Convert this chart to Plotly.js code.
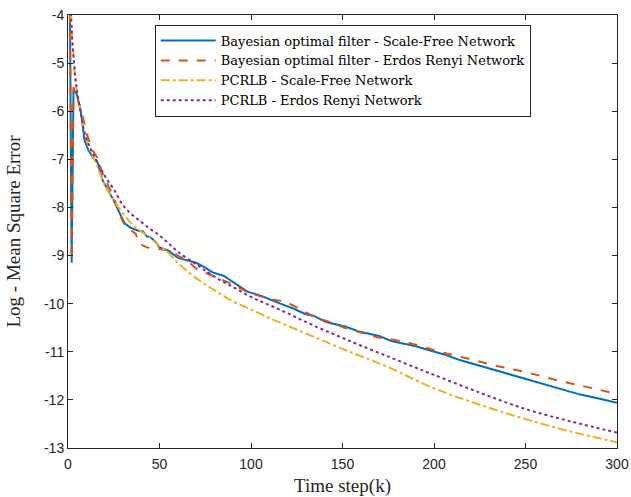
<!DOCTYPE html>
<html>
<head>
<meta charset="utf-8">
<script src="https://cdn.plot.ly/plotly-3.0.1.min.js"></script>
<style>html,body{margin:0;padding:0;background:#fff;}#chart{width:631px;height:497px;}</style>
</head>
<body>
<div id="chart"></div>
<script>
// Series names
const seriesNames = [
  'Bayesian optimal filter - Scale-Free Network',
  'Bayesian optimal filter - Erdos Renyi Network',
  'PCRLB - Scale-Free Network',
  'PCRLB - Erdos Renyi Network'
];

// Bayesian optimal filter - Scale-Free Network
const bofSfK = [1,2,3,4,5,6,7,8,9,11,14,16,19,22,25,28,31,34,38,41,43,45,48,50,55,60,65,70,75,79,85,90,98,105,110,116,123,130,134,141,152,159,170,177,189,196,205,214,225,240,250,260,270,280,290,300];
const bofSfV = [-3.6,-9.15,-5.56,-5.6,-5.67,-5.85,-6.0,-6.3,-6.6,-6.8,-6.98,-7.05,-7.44,-7.65,-7.85,-8.1,-8.33,-8.42,-8.48,-8.5,-8.6,-8.62,-8.72,-8.83,-8.9,-9.05,-9.1,-9.15,-9.25,-9.35,-9.42,-9.55,-9.75,-9.83,-9.9,-10.0,-10.1,-10.22,-10.25,-10.38,-10.48,-10.58,-10.67,-10.78,-10.875,-10.95,-11.05,-11.17,-11.29,-11.46,-11.57,-11.68,-11.79,-11.89,-11.97,-12.06];

// Bayesian optimal filter - Erdos Renyi Network
const bofErK = [1,2,3,4,5,6,7,8,10,12,14,16,19,22,24,26,28,30,32,35,37,39,43,47,52,56,60,65,70,79,90,98,105,110,119,126,135,142,151,160,169,178,187,194,203,214,225,235,250,260,270,280,290,300];
const bofErV = [-3.6,-9.1,-5.5,-5.6,-5.7,-5.85,-5.95,-6.1,-6.45,-6.67,-6.85,-6.96,-7.3,-7.55,-7.7,-7.9,-8.1,-8.3,-8.4,-8.5,-8.55,-8.75,-8.83,-8.85,-8.88,-8.9,-9.0,-9.1,-9.27,-9.42,-9.6,-9.76,-9.85,-9.9,-9.96,-10.1,-10.28,-10.37,-10.5,-10.6,-10.7,-10.75,-10.82,-10.9,-11.0,-11.1,-11.2,-11.3,-11.42,-11.52,-11.62,-11.7,-11.79,-11.875];

// PCRLB - Scale-Free Network
const pcrlbSfK = [1,2,3,4,5,7,9,12,15,18,21,25,30,35,40,45,50,55,60,70,80,90,100,110,120,130,140,150,160,175,200,225,250,275,300];
const pcrlbSfV = [-3.2,-4.3,-4.85,-5.3,-5.6,-6.05,-6.45,-6.8,-7.05,-7.35,-7.6,-7.85,-8.12,-8.35,-8.5,-8.64,-8.8,-8.95,-9.15,-9.47,-9.72,-9.95,-10.12,-10.3,-10.46,-10.62,-10.78,-10.94,-11.09,-11.32,-11.76,-12.1,-12.4,-12.66,-12.88];

// PCRLB - Erdos Renyi Network
const pcrlbErK = [1,2,3,4,5,7,9,12,15,18,21,25,30,35,40,45,50,55,60,70,80,90,100,110,120,130,140,150,160,175,190,200,225,250,275,300];
const pcrlbErV = [-3.2,-4.3,-4.85,-5.3,-5.6,-6.05,-6.45,-6.75,-6.98,-7.2,-7.4,-7.62,-7.95,-8.15,-8.3,-8.45,-8.58,-8.75,-8.92,-9.18,-9.44,-9.65,-9.86,-10.03,-10.2,-10.38,-10.55,-10.71,-10.87,-11.1,-11.33,-11.48,-11.85,-12.19,-12.45,-12.68];

// Axis ticks
const xTicks = [0,50,100,150,200,250,300];
const yTicks = [-4,-5,-6,-7,-8,-9,-10,-11,-12,-13];

const colors = ['#0072BD','#D95319','#EDB120','#7E2F8E'];
const dashes = ['solid','dash','dashdot','dot'];
const xs = [bofSfK,bofErK,pcrlbSfK,pcrlbErK];
const ys = [bofSfV,bofErV,pcrlbSfV,pcrlbErV];

const traces = seriesNames.map((n,i)=>({
  x: xs[i], y: ys[i], name: n, type:'scatter', mode:'lines',
  line:{color:colors[i], width:2, dash:dashes[i], shape: i>=2 ? 'spline' : 'linear'}
}));

const serif = 'Liberation Serif, Times New Roman, serif';
const axisCommon = {
  showgrid:false, zeroline:false, showline:true, mirror:'ticks',
  linecolor:'#262626', linewidth:1, ticks:'inside', ticklen:5, tickcolor:'#262626',
  tickfont:{family:'Liberation Sans, Arial, sans-serif', size:14, color:'#262626'}
};

const layout = {
  width:631, height:497,
  margin:{l:68, r:14, t:15, b:49},
  paper_bgcolor:'#fff', plot_bgcolor:'#fff',
  showlegend:true,
  legend:{
    x:0.158, y:0.978, xanchor:'left', yanchor:'top',
    bgcolor:'#fff', bordercolor:'#262626', borderwidth:1,
    font:{family:'DejaVu Serif, serif', size:13, color:'#000'},
    itemwidth:55, tracegroupgap:0
  },
  xaxis: Object.assign({}, axisCommon, {
    range:[0,300], tickvals:xTicks, ticktext:xTicks.map(String), ticklabelstandoff:3,
    title:{text:'Time step(k)', font:{family:serif, size:19, color:'#262626'}, standoff:9}
  }),
  yaxis: Object.assign({}, axisCommon, {
    range:[-13,-4], tickvals:yTicks, ticktext:yTicks.map(String),
    title:{text:'Log - Mean Square Error', font:{family:serif, size:19, color:'#262626'}, standoff:18}
  })
};

Plotly.newPlot('chart', traces, layout, {displayModeBar:false, staticPlot:true});
</script>
</body>
</html>
